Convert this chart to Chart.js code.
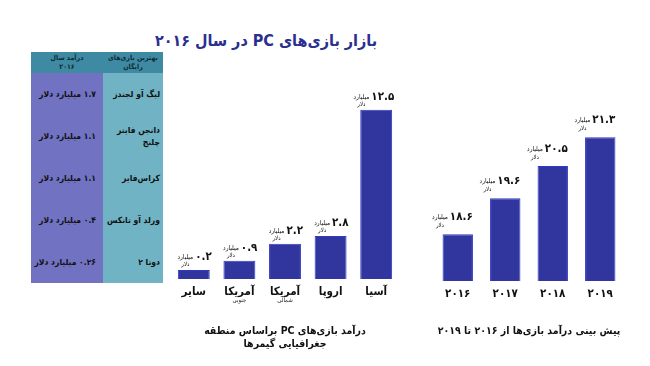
<!DOCTYPE html>
<html lang="fa">
<head>
<meta charset="utf-8">
<script src="https://cdn.jsdelivr.net/npm/chart.js@4.4.0/dist/chart.umd.min.js"></script>
<style>
  html, body { margin: 0; padding: 0; background: #fff; }
  body { width: 650px; height: 366px; position: relative; overflow: hidden; font-family: 'DejaVu Sans Condensed', 'DejaVu Sans', sans-serif; }
  #title { position: absolute; left: 0; top: 28px; width: 532px; text-align: center; font-size: 16px; line-height: 26px; font-weight: bold; color: #2b2f8e; direction: rtl; white-space: nowrap; }
  #games { position: absolute; left: 31px; top: 52px; width: 132px; border-collapse: collapse; direction: rtl; table-layout: fixed; }
  #games td, #games th { padding: 0; white-space: nowrap; overflow: hidden; }
  #games th { background: #3e8aa3; height: 21px; font-size: 7px; line-height: 8.5px; color: #102a33; font-weight: bold; text-align: center; }
  #games td { height: 42px; font-size: 8.5px; font-weight: bold; color: #111; line-height: 12px; }
  #games td.rev { background: #7272c3; text-align: right; padding-right: 7px; }
  #games td.name { background: #70b3c4; text-align: right; padding-right: 3px; }
  .box { position: absolute; top: 60px; }
  #left { left: 168px; }
  #right { left: 420px; }
</style>
</head>
<body>
<div id="title"></div>
<table id="games"><colgroup><col style="width:60px"><col style="width:72px"></colgroup><thead><tr><th id="h-name"></th><th id="h-rev"></th></tr></thead><tbody></tbody></table>
<div class="box" id="left"><canvas id="regionChart" dir="rtl" width="237" height="306"></canvas></div>
<div class="box" id="right"><canvas id="forecastChart" dir="rtl" width="225" height="306"></canvas></div>
<script>
// data
const regionLabels = ['سایر', 'آمریکا', 'آمریکا', 'اروپا', 'آسیا'];
const regionSubLabels = ['', 'جنوبی', 'شمالی', '', ''];
const regionRevenue = [0.2, 0.9, 2.2, 2.8, 12.5];

const yearLabels = ['۲۰۱۶', '۲۰۱۷', '۲۰۱۸', '۲۰۱۹'];
const forecastRevenue = [18.6, 19.6, 20.5, 21.3];

const gameNames = [['لیگ آو لجندز'], ['دانجن فایتر', 'چلنج'], ['کراس‌فایر'], ['ورلد آو تانکس'], ['دوتا ۲']];
const gameRevenue = [1.7, 1.1, 1.1, 0.4, 0.26];

const FONT = "'DejaVu Sans Condensed', 'DejaVu Sans', sans-serif";
const BAR_FILL = '#31369f';
const BAR_EDGE = '#3038c8';

// persian digits
function toFa(v) {
  return String(v).replace(/\d/g, d => '۰۱۲۳۴۵۶۷۸۹'[d]);
}

document.getElementById('title').textContent = 'بازار بازی‌های PC در سال ۲۰۱۶';
document.getElementById('h-rev').innerHTML = 'درآمد سال<br>۲۰۱۶';
document.getElementById('h-name').innerHTML = 'بهترین بازی‌های<br>رایگان';

const tbody = document.querySelector('#games tbody');
gameNames.forEach((lines, i) => {
  const tr = document.createElement('tr');
  const name = document.createElement('td');
  name.className = 'name';
  name.innerHTML = lines.join('<br>');
  const rev = document.createElement('td');
  rev.className = 'rev';
  rev.textContent = toFa(gameRevenue[i]) + ' میلیارد دلار';
  tr.appendChild(name);
  tr.appendChild(rev);
  tbody.appendChild(tr);
});

Chart.defaults.font.family = FONT;

// value label over each bar: big number, small "billion" and "dollar"
const valueLabels = {
  id: 'valueLabels',
  afterDatasetsDraw(chart, args, opts) {
    const ctx = chart.ctx;
    const values = chart.data.datasets[0].data;
    ctx.save();
    ctx.fillStyle = '#111';
    ctx.textBaseline = 'alphabetic';
    chart.getDatasetMeta(0).data.forEach((bar, i) => {
      const num = toFa(values[i]);
      const right = bar.x + opts.shift;
      ctx.textAlign = 'right';
      ctx.font = 'bold ' + opts.size + 'px ' + FONT;
      ctx.fillText(num, right, bar.y - opts.numGap);
      const w = ctx.measureText(num).width;
      ctx.font = '6.5px ' + FONT;
      const unitRight = right - w - 2;
      ctx.fillText('میلیارد', unitRight, bar.y - opts.numGap - 1);
      const uw = ctx.measureText('میلیارد').width;
      ctx.textAlign = 'center';
      ctx.font = '6px ' + FONT;
      ctx.fillText('دلار', unitRight - uw / 2, bar.y - opts.unitGap);
    });
    ctx.restore();
  }
};

// small second line under some region names
const subLabels = {
  id: 'subLabels',
  afterDraw(chart) {
    const ctx = chart.ctx;
    const xs = chart.scales.x;
    ctx.save();
    ctx.fillStyle = '#222';
    ctx.font = '6px ' + FONT;
    ctx.textAlign = 'center';
    ctx.textBaseline = 'middle';
    regionSubLabels.forEach((s, i) => {
      if (s) ctx.fillText(s, xs.getPixelForValue(i), xs.top + 21);
    });
    ctx.restore();
  }
};

function xAxis(titleLines, padTop) {
  return {
    grid: { display: false, drawTicks: false },
    border: { display: false },
    ticks: { padding: 5, color: '#111', font: { size: 11.5, weight: 'bold', lineHeight: '15.6px' }, maxRotation: 0, autoSkip: false },
    title: {
      display: true,
      text: titleLines,
      color: '#111',
      font: { size: 10.5, weight: 'bold', lineHeight: '13.5px' },
      padding: { top: padTop, bottom: 0 }
    }
  };
}

new Chart(document.getElementById('regionChart'), {
  type: 'bar',
  data: {
    labels: regionLabels,
    datasets: [{
      data: regionRevenue,
      base: -0.5,
      backgroundColor: BAR_FILL,
      borderColor: BAR_EDGE,
      borderWidth: 1,
      categoryPercentage: 1,
      barPercentage: 0.7
    }]
  },
  options: {
    responsive: false,
    animation: false,
    devicePixelRatio: 1,
    layout: { padding: { left: 3, right: 6, top: 0, bottom: 14.75 } },
    plugins: {
      legend: { display: false },
      tooltip: { enabled: false },
      valueLabels: { shift: 18, size: 11.5, numGap: 10, unitGap: 4 }
    },
    scales: {
      y: { display: false, min: -0.5, max: 16.33 },
      x: xAxis(['درآمد بازی‌های PC براساس منطقه', 'جغرافیایی گیمرها'], 19.65)
    }
  },
  plugins: [valueLabels, subLabels]
});

new Chart(document.getElementById('forecastChart'), {
  type: 'bar',
  data: {
    labels: yearLabels,
    datasets: [{
      data: forecastRevenue,
      backgroundColor: BAR_FILL,
      borderColor: BAR_EDGE,
      borderWidth: 1,
      categoryPercentage: 1,
      barPercentage: 0.64
    }]
  },
  options: {
    responsive: false,
    animation: false,
    devicePixelRatio: 1,
    layout: { padding: { left: 14, right: 21, top: 0, bottom: 28.25 } },
    plugins: {
      legend: { display: false },
      tooltip: { enabled: false },
      valueLabels: { shift: 15, size: 11.5, numGap: 14, unitGap: 7 }
    },
    scales: {
      y: { display: false, min: 17.3, max: 23.45 },
      x: xAxis(['پیش بینی درآمد بازی‌ها از ۲۰۱۶ تا ۲۰۱۹'], 17.65)
    }
  },
  plugins: [valueLabels]
});
</script>
</body>
</html>
